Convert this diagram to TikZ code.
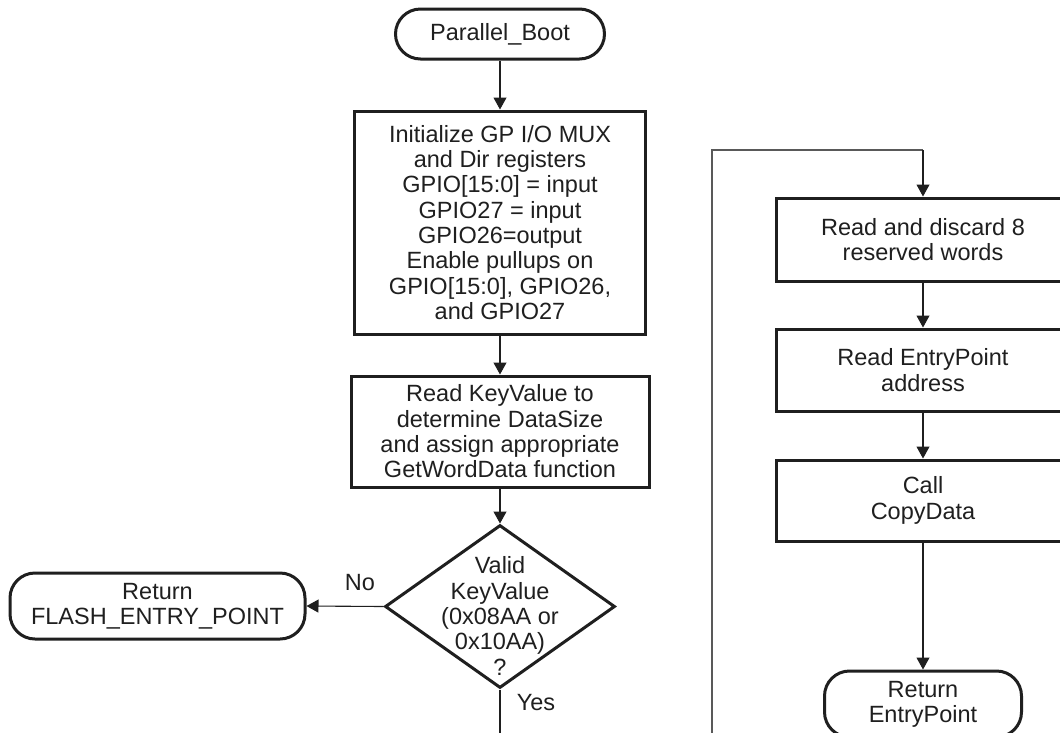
\documentclass[tikz,border=0pt]{standalone}
\usepackage{fontspec}
\setmainfont{Liberation Sans}
\usetikzlibrary{shapes.geometric,arrows.meta}
\begin{document}
\begin{tikzpicture}[x=1pt,y=-1pt,
  every node/.style={font=\fontsize{23.5}{25.3}\selectfont, text=black!88},
  proc/.style={draw=black!88, line width=3pt, rectangle, align=center, inner sep=0pt},
  term/.style={draw=black!88, line width=3pt, rectangle, rounded corners=25pt, align=center, inner sep=0pt},
  dec/.style={draw=black!88, line width=3pt, diamond, inner sep=0pt},
  conn/.style={draw=black!88, line width=1.1pt, -{Triangle[length=12pt,width=13pt]}},
  wire/.style={draw=black!88, line width=1.1pt},
  loopline/.style={draw=black!65, line width=1.3pt},
  lbl/.style={inner sep=0pt}
]
\useasboundingbox (0,0) rectangle (1060,732);
\fill[white] (0,0) rectangle (1060,732);
\clip (0,0) rectangle (1060,732);

% left column
\node[term, minimum width=209pt, minimum height=50pt] (pb) at (500,34) {Parallel\_Boot};
\node[proc, minimum width=291pt, minimum height=223pt] (init) at (500,222.5)
  {Initialize GP I/O MUX\\and Dir registers\\GPIO[15:0] = input\\GPIO27 = input\\GPIO26=output\\Enable pullups on\\GPIO[15:0], GPIO26,\\and GPIO27};
\node[proc, minimum width=298pt, minimum height=111pt] (read) at (500,431.5)
  {Read KeyValue to\\determine DataSize\\and assign appropriate\\GetWordData function};
\node[dec, minimum width=230pt, minimum height=163pt] (valid) at (500,606.5) {};
\node[lbl, align=center] (validtxt) at (500,616) {Valid\\KeyValue\\(0x08AA or\\0x10AA)\\?};
\node[term, minimum width=295pt, minimum height=66pt] (flash) at (157.5,606) {Return\\FLASH\_ENTRY\_POINT};
\coordinate (yesend) at (500,745);
\node[lbl] (no) at (360,583) {No};
\node[lbl] (yes) at (536,703) {Yes};

\draw[conn] (pb.south) -- (init.north);
\draw[conn] (init.south) -- (read.north);
\draw[conn] (read.south) -- (valid.north);
\draw[conn] (valid.west) -- (flash.east);
\draw[wire] (valid.south) -- (yesend);

% right column
\node[proc, minimum width=294pt, minimum height=83pt] (rd1) at (923,239.5) {Read and discard 8\\reserved words};
\node[proc, minimum width=294pt, minimum height=82pt] (rd2) at (923,370) {Read EntryPoint\\address};
\node[proc, minimum width=294pt, minimum height=81pt] (call) at (923,500.5) {Call\\CopyData};
\node[term, minimum width=197pt, minimum height=66pt] (ret) at (923,704) {Return\\EntryPoint};
\coordinate (loopstart) at (712,745);
\coordinate (looptop) at (712,150);
\coordinate (loopright) at (923,150);

\draw[loopline] (loopstart) -- (looptop) -- (loopright);
\draw[conn] (loopright) -- (rd1.north);
\draw[conn] (rd1.south) -- (rd2.north);
\draw[conn] (rd2.south) -- (call.north);
\draw[conn] (call.south) -- (ret.north);
\end{tikzpicture}
\end{document}
